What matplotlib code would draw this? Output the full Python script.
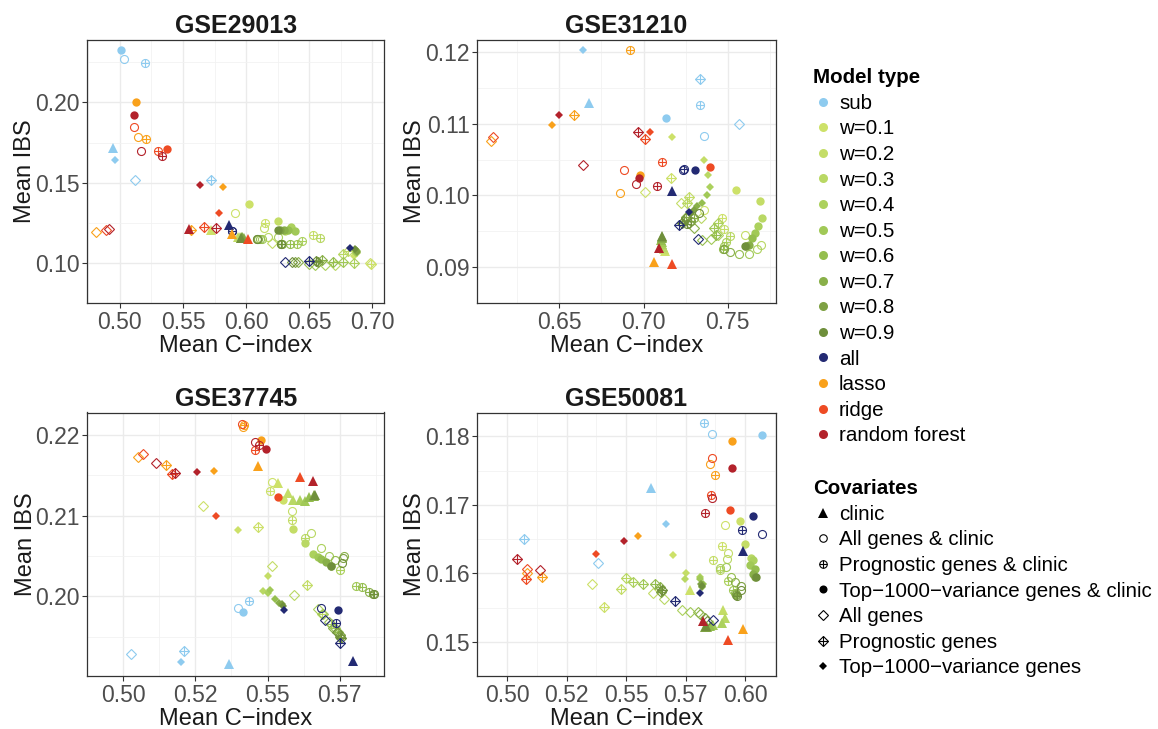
import matplotlib
matplotlib.use('Agg')
import matplotlib.pyplot as plt
import numpy as np
from matplotlib.lines import Line2D

plt.rcParams['font.family'] = ['Liberation Sans', 'DejaVu Sans']

# Model types (rows) and covariate sets (columns)
MODELS = ['sub', 'w=0.1', 'w=0.2', 'w=0.3', 'w=0.4', 'w=0.5', 'w=0.6',
          'w=0.7', 'w=0.8', 'w=0.9', 'all', 'lasso', 'ridge', 'random forest']
MODEL_COLORS = ['#8ecbef', '#cde169', '#c4dd67', '#b9d864', '#acd15d',
                '#a1c957', '#95be4f', '#89b049', '#7ea143', '#6f8f3b',
                '#232a73', '#f9a11b', '#ee4b24', '#b3222b']
COVARIATES = ['clinic', 'All genes & clinic', 'Prognostic genes & clinic',
              'Top\u22121000\u2212variance genes & clinic', 'All genes',
              'Prognostic genes', 'Top\u22121000\u2212variance genes']

NA = np.nan

# columns: clinic, all&clinic, prog&clinic, top&clinic, all, prog, top
GSE29013_X = [
    [.4947, .5032, .5203, .5008, .5121, .5724, .4963],
    [.5724, .5916, .6151, .6022, .6980, .6988, .6855],
    [.5935, .6145, .6532, .6250, .6203, .6809, .6870],
    [.5950, .6177, .6585, .6309, .6704, .6769, .6875],
    [.5960, .6250, .6440, .6353, .6625, .6856, .6862],
    [.5965, .6130, .6401, .6388, .6546, .6769, .6867],
    [.5975, .6110, .6348, .6330, .6500, .6690, .6880],
    [.5985, .6095, .6282, .6300, .6414, .6598, .6870],
    [.5970, .6090, .6280, .6270, .6388, .6572, .6875],
    [.5960, .6085, .6275, .6250, .6360, .6550, .6865],
    [.5861, .5885, .5887, NA, .6309, .6498, .6827],
    [.5887, .5140, .5205, .5126, .4808, .5566, .5814],
    [.6019, .5113, .5300, .5371, .4892, .5664, .5787],
    [.5548, .5168, .5337, .5113, .4913, .5758, .5632],
]
GSE29013_Y = [
    [.1713, .2268, .2244, .2326, .1514, .1516, .1641],
    [.1209, .1313, .1248, .1365, .0998, .0996, .1045],
    [.1165, .1218, .1177, .1264, .1125, .1075, .1060],
    [.1160, .1162, .1155, .1201, .0987, .1056, .1066],
    [.1158, .1162, .1136, .1223, .0991, .0998, .1084],
    [.1160, .1152, .1121, .1201, .0991, .1006, .1062],
    [.1158, .1150, .1119, .1205, .0995, .1006, .1075],
    [.1156, .1149, .1119, .1205, .1006, .1022, .1080],
    [.1162, .1149, .1119, .1208, .1006, .1009, .1070],
    [.1158, .1150, .1120, .1209, .1006, .1013, .1085],
    [.1236, .1198, .1201, NA, .1006, .1013, .1093],
    [.1184, .1784, .1771, .2000, .1194, .1203, .1475],
    [.1149, .1847, .1696, .1709, .1209, .1222, .1313],
    [.1210, .1696, .1667, .1922, .1214, .1218, .1484],
]

GSE31210_X = [
    [.6673, .7357, .7337, .7133, .7565, .7333, .6639],
    [.7129, .7357, .7466, .7552, .7006, .7163, .7169],
    [.7120, .7605, .7480, .7694, .7222, .7268, .7361],
    [.7115, .7698, .7512, .7704, .7343, .7260, .7385],
    [.7110, .7675, .7490, .7679, .7440, .7440, .7397],
    [.7110, .7625, .7480, .7665, .7400, .7420, .7377],
    [.7105, .7565, .7470, .7645, .7350, .7430, .7345],
    [.7109, .7516, .7300, .7625, .7300, .7250, .7320],
    [.7110, .7476, .7280, .7610, .7270, .7240, .7300],
    [.7112, .7330, .7260, .7600, .7250, .7230, .7280],
    [.7171, .7236, .7238, .7304, .7321, .7212, .7270],
    [.7060, .6857, .6921, .6976, .6091, .6589, .6456],
    [.7169, .6885, .7109, .7393, .6107, .7008, .7040],
    [.7089, .6958, .7079, .6972, .6639, .6964, .6496],
]
GSE31210_Y = [
    [.1128, .1083, .1126, .1108, .1099, .1162, .1203],
    [.0923, .0980, .0969, .1008, .1005, .1025, .1081],
    [.0925, .0945, .0953, .0993, .0989, .0998, .1050],
    [.0928, .0931, .0943, .0969, .0969, .0990, .1028],
    [.0932, .0925, .0935, .0957, .0945, .0962, .1012],
    [.0935, .0919, .0930, .0948, .0940, .0955, .1000],
    [.0938, .0919, .0925, .0941, .0938, .0945, .0990],
    [.0941, .0922, .0968, .0931, .0955, .0970, .0985],
    [.0942, .0925, .0965, .0930, .0962, .0965, .0980],
    [.0943, .0975, .0960, .0930, .0968, .0962, .0975],
    [.1006, .1035, .1037, .1035, .0940, .0959, .0977],
    [.0908, .1003, .1202, .1028, .1076, .1112, .1098],
    [.0905, .1036, .1046, .1039, .1081, .1079, .1088],
    [.0927, .1016, .1013, .1024, .1042, .1089, .1112],
]

GSE37745_X = [
    [.5368, .5399, .5437, .5414, .5025, .5209, .5199],
    [.5536, .5515, .5510, .5554, .5277, .5466, .5396],
    [.5572, .5585, .5585, .5589, .5515, .5636, .5501],
    [.5587, .5650, .5629, .5631, .5593, .5690, .5484],
    [.5613, .5684, .5753, .5657, .5674, .5720, .5500],
    [.5629, .5714, .5808, .5674, .5691, .5735, .5507],
    [.5644, .5733, .5829, .5686, .5712, .5745, .5526],
    [.5660, .5766, .5852, .5702, .5728, .5750, .5541],
    [.5662, .5762, .5867, .5719, .5751, .5752, .5550],
    [.5663, .5758, .5870, .5720, .5740, .5755, .5555],
    [.5795, .5686, .5736, .5745, .5699, .5753, .5558],
    [.5468, .5416, .5418, .5479, .5052, .5147, .5316],
    [.5611, .5413, .5458, .5537, .5067, .5168, .5321],
    [.5657, .5458, .5470, .5496, .5112, .5178, .5255],
]
GSE37745_Y = [
    [.1916, .1985, .1994, .1981, .1928, .1932, .1918],
    [.2141, .2142, .2131, .2120, .2112, .2086, .2082],
    [.2128, .2106, .2094, .2084, .2038, .2014, .2025],
    [.2119, .2079, .2072, .2066, .2002, .1978, .2007],
    [.2120, .2060, .2032, .2053, .1984, .1965, .2004],
    [.2118, .2050, .2013, .2049, .1978, .1960, .2008],
    [.2123, .2045, .2011, .2046, .1968, .1955, .1996],
    [.2124, .2050, .2005, .2042, .1960, .1952, .1991],
    [.2126, .2047, .2003, .2038, .1952, .1950, .1990],
    [.2126, .2041, .2003, .2037, .1955, .1948, .1988],
    [.1920, .1986, .1967, .1983, .1971, .1942, .1983],
    [.2161, .2210, .2212, .2194, .2173, .2163, .2156],
    [.2148, .2214, .2182, .2123, .2176, .2152, .2099],
    [.2143, .2191, .2188, .2183, .2165, .2153, .2154],
]

GSE50081_X = [
    [.5604, .5860, .5827, .6072, .5381, .5070, .5669],
    [.5770, .5916, .5901, .5977, .5355, .5406, .5698],
    [.5907, .5929, .5863, .5999, .5612, .5480, .5752],
    [.5916, .5923, .5892, .6025, .5657, .5499, .5748],
    [.5901, .5895, .5926, .6032, .5736, .5527, .5808],
    [.5865, .5920, .5949, .6019, .5770, .5569, .5809],
    [.5850, .5939, .5958, .6040, .5803, .5622, .5824],
    [.5838, .5958, .5960, .6034, .5810, .5643, .5820],
    [.5830, .5984, .5962, .6043, .5830, .5647, .5815],
    [.5835, .5984, .5965, .6044, .5840, .5650, .5818],
    [.5990, .6069, .5985, .6033, .5863, .5707, .5812],
    [.5990, .5850, .5871, .5945, .5085, .5148, .5548],
    [.5926, .5859, .5858, .5934, .5085, .5079, .5372],
    [.5821, .5859, .5830, .5945, .5137, .5042, .5489],
]
GSE50081_Y = [
    [.1725, .1804, .1820, .1802, .1615, .1650, .1672],
    [.1576, .1671, .1640, .1676, .1584, .1551, .1627],
    [.1546, .1630, .1620, .1643, .1572, .1577, .1600],
    [.1535, .1621, .1605, .1622, .1562, .1593, .1591],
    [.1528, .1608, .1589, .1620, .1547, .1588, .1595],
    [.1524, .1609, .1576, .1612, .1544, .1584, .1592],
    [.1523, .1595, .1571, .1607, .1544, .1585, .1584],
    [.1522, .1588, .1570, .1599, .1540, .1580, .1580],
    [.1522, .1582, .1568, .1595, .1535, .1573, .1585],
    [.1523, .1576, .1567, .1595, .1530, .1575, .1582],
    [.1632, .1657, .1663, .1684, .1532, .1560, .1572],
    [.1518, .1760, .1743, .1793, .1600, .1595, .1654],
    [.1502, .1768, .1715, .1692, .1607, .1591, .1628],
    [.1531, .1710, .1688, .1754, .1605, .1621, .1647],
]

PANELS = [
    ('GSE29013', GSE29013_X, GSE29013_Y),
    ('GSE31210', GSE31210_X, GSE31210_Y),
    ('GSE37745', GSE37745_X, GSE37745_Y),
    ('GSE50081', GSE50081_X, GSE50081_Y),
]

# axis settings per panel: limits, tick positions and tick labels
AXES_CFG = [
    dict(xlim=(0.4742, 0.7095), ylim=(0.0916, 0.2391),
         xt=[0.50, 0.55, 0.60, 0.65, 0.70], xl=['0.50', '0.55', '0.60', '0.65', '0.70'],
         yt=[0.10, 0.15, 0.20], yl=['0.10', '0.15', '0.20']),
    dict(xlim=(0.6012, 0.7784), ylim=(0.0890, 0.1217),
         xt=[0.65, 0.70, 0.75], xl=['0.65', '0.70', '0.75'],
         yt=[0.09, 0.10, 0.11, 0.12], yl=['0.09', '0.10', '0.11', '0.12']),
    dict(xlim=(0.4983, 0.5905), ylim=(0.1901, 0.2228),
         xt=[0.50, 0.525, 0.55, 0.575], xl=['0.50', '0.52', '0.55', '0.57'],
         yt=[0.20, 0.21, 0.22], yl=['0.20', '0.21', '0.22']),
    dict(xlim=(0.4987, 0.6127), ylim=(0.1484, 0.1835),
         xt=[0.50, 0.525, 0.55, 0.575, 0.60], xl=['0.50', '0.52', '0.55', '0.57', '0.60'],
         yt=[0.15, 0.16, 0.17, 0.18], yl=['0.15', '0.16', '0.17', '0.18']),
]

W, H = 1158, 729
BOXES = [(87.3, 384.3, 39.5, 303.3), (477.3, 775.5, 39.5, 303.3),
         (87.3, 384.3, 412.5, 676.0), (477.3, 775.5, 412.5, 676.0)]

EW = 0.8  # edge width of open markers
SC = 1.2  # marker scale in the panels


def draw_point(ax, cov, x, y, color, scale=SC):
    """Draw one point with the ggplot-like shape of the covariate set."""
    kw = dict(linestyle='none')
    if cov == 0:    # filled triangle
        ax.plot(x, y, marker='^', ms=6.2 * scale, mfc=color, mec=color, mew=0, **kw)
    elif cov == 1:  # open circle
        ax.plot(x, y, marker='o', ms=4.8 * scale, mfc='none', mec=color, mew=EW, **kw)
    elif cov == 2:  # circle with plus
        ax.plot(x, y, marker='o', ms=4.8 * scale, mfc='none', mec=color, mew=EW, **kw)
        ax.plot(x, y, marker='+', ms=4.8 * scale, mec=color, mew=EW, **kw)
    elif cov == 3:  # filled circle
        ax.plot(x, y, marker='o', ms=5.0 * scale, mfc=color, mec=color, mew=0, **kw)
    elif cov == 4:  # open diamond
        ax.plot(x, y, marker='D', ms=4.6 * scale, mfc='none', mec=color, mew=EW, **kw)
    elif cov == 5:  # diamond with plus
        ax.plot(x, y, marker='D', ms=4.6 * scale, mfc='none', mec=color, mew=EW, **kw)
        ax.plot(x, y, marker='+', ms=6.5 * scale, mec=color, mew=EW, **kw)
    else:           # small filled diamond
        ax.plot(x, y, marker='D', ms=3.2 * scale, mfc=color, mec=color, mew=0, **kw)


fig = plt.figure(figsize=(W / 100, H / 100), dpi=100)

for (name, xs, ys), cfg, (l, r, t, b) in zip(PANELS, AXES_CFG, BOXES):
    ax = fig.add_axes([l / W, 1 - b / H, (r - l) / W, (b - t) / H])
    ax.set_xlim(*cfg['xlim'])
    ax.set_ylim(*cfg['ylim'])
    xt, yt = cfg['xt'], cfg['yt']
    ax.set_xticks(xt)
    ax.set_xticklabels(cfg['xl'])
    ax.set_yticks(yt)
    ax.set_yticklabels(cfg['yl'])
    dx = xt[1] - xt[0]
    dy = yt[1] - yt[0]
    ax.set_xticks(np.arange(xt[0] - dx / 2, cfg['xlim'][1], dx), minor=True)
    ax.set_yticks(np.arange(yt[0] - dy / 2, cfg['ylim'][1], dy), minor=True)
    ax.grid(True, which='major', color='#ebebeb', linewidth=1.0)
    ax.grid(True, which='minor', color='#f2f2f2', linewidth=0.6)
    ax.set_axisbelow(True)
    ax.tick_params(which='major', length=3.5, width=0.8, color='#333333',
                   labelsize=16.5, labelcolor='#4d4d4d', pad=2)
    ax.tick_params(which='minor', length=0)
    for sp in ax.spines.values():
        sp.set_color('#333333')
        sp.set_linewidth(0.9)
    ax.set_title(name, fontsize=18, fontweight='bold', color='#1a1a1a', pad=5)
    ax.set_xlabel('Mean C\u2212index', fontsize=17, color='#1a1a1a', labelpad=1)
    ax.set_ylabel('Mean IBS', fontsize=17, color='#1a1a1a', labelpad=-1)

    for m in range(len(MODELS)):
        for c in range(len(COVARIATES)):
            x, y = xs[m][c], ys[m][c]
            if np.isnan(x):
                continue
            draw_point(ax, c, x, y, MODEL_COLORS[m])

# Model type legend
model_handles = [Line2D([], [], linestyle='none', marker='o', ms=6.5, mfc=col,
                        mec=col, mew=0) for col in MODEL_COLORS]
fig.legend(model_handles, MODELS, title='Model type', loc='upper left',
           bbox_to_anchor=(803 / W, 1 - 58 / H), frameon=False,
           fontsize=14.8, title_fontproperties={'weight': 'bold', 'size': 14.8},
           handlelength=0.9, handletextpad=0.35, labelspacing=0.32,
           borderpad=0, alignment='left')

# Covariates legend
k = 'black'
cov_handles = [
    Line2D([], [], linestyle='none', marker='^', ms=6.8, mfc=k, mec=k, mew=0),
    Line2D([], [], linestyle='none', marker='o', ms=5.4, mfc='none', mec=k, mew=EW),
    (Line2D([], [], linestyle='none', marker='o', ms=5.4, mfc='none', mec=k, mew=EW),
     Line2D([], [], linestyle='none', marker='+', ms=5.4, mec=k, mew=EW)),
    Line2D([], [], linestyle='none', marker='o', ms=5.8, mfc=k, mec=k, mew=0),
    Line2D([], [], linestyle='none', marker='D', ms=5.4, mfc='none', mec=k, mew=EW),
    (Line2D([], [], linestyle='none', marker='D', ms=5.4, mfc='none', mec=k, mew=EW),
     Line2D([], [], linestyle='none', marker='+', ms=7.6, mec=k, mew=EW)),
    Line2D([], [], linestyle='none', marker='D', ms=3.8, mfc=k, mec=k, mew=0),
]
fig.legend(cov_handles, COVARIATES, title='Covariates', loc='upper left',
           bbox_to_anchor=(803 / W, 1 - 469 / H), frameon=False,
           fontsize=14.8, title_fontproperties={'weight': 'bold', 'size': 14.8},
           handlelength=0.9, handletextpad=0.35, labelspacing=0.32,
           borderpad=0, alignment='left')

fig.savefig('out.png', dpi=100)
